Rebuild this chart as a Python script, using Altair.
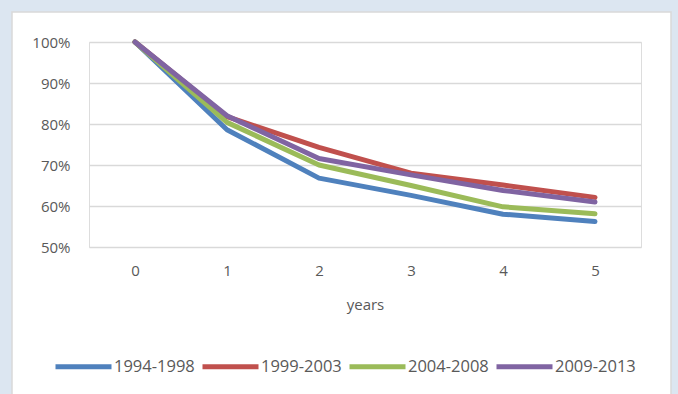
import altair as alt
import pandas as pd

years = [0, 1, 2, 3, 4, 5]
series_names = ["1994-1998", "1999-2003", "2004-2008", "2009-2013"]
s_1994 = [1.00, 0.786, 0.668, 0.626, 0.580, 0.562]
s_1999 = [1.00, 0.818, 0.743, 0.680, 0.651, 0.621]
s_2004 = [1.00, 0.804, 0.700, 0.650, 0.598, 0.581]
s_2009 = [1.00, 0.820, 0.716, 0.676, 0.638, 0.610]
colors = ["#4F81BD", "#C0504D", "#9BBB59", "#8064A2"]

rows = []
for name, vals in zip(series_names, [s_1994, s_1999, s_2004, s_2009]):
    for yr, v in zip(years, vals):
        rows.append({"year": yr, "value": v, "period": name})
df = pd.DataFrame(rows)

FONT = "Open Sans"
TXT = "#595959"

lines = alt.Chart(df).mark_line(strokeWidth=5, strokeCap="round", strokeJoin="round").encode(
    x=alt.X("year:O", title="years",
            scale=alt.Scale(type="point", padding=0.5),
            axis=alt.Axis(labelAngle=0, domain=False, ticks=False, grid=False,
                          labelPadding=16, titlePadding=19,
                          labelFontSize=15, titleFontSize=15, titleFontWeight="normal")),
    y=alt.Y("value:Q", title=None,
            scale=alt.Scale(domain=[0.5, 1.0], nice=False, zero=False),
            axis=alt.Axis(format=".0%", values=[0.5, 0.6, 0.7, 0.8, 0.9, 1.0],
                          domain=False, ticks=False, labelPadding=19,
                          labelFontSize=15, gridColor="#D9D9D9", gridWidth=1.5)),
    color=alt.Color("period:N", sort=series_names,
                    scale=alt.Scale(domain=series_names, range=colors),
                    legend=alt.Legend(title=None, orient="none", direction="horizontal",
                                      legendX=-36, legendY=294,
                                      symbolType="stroke", symbolSize=3136,
                                      symbolStrokeWidth=5, labelFontSize=16.5,
                                      labelOffset=0, columnPadding=-3)),
)

frame = alt.Chart(alt.Data(values=[{}])).mark_rect(
    fill=None, stroke="#DCE6F1", strokeWidth=24
).encode(x=alt.value(-89), x2=alt.value(594), y=alt.value(-42), y2=alt.value(364))

border = alt.Chart(alt.Data(values=[{}])).mark_rect(
    fill=None, stroke="#D9D9D9", strokeWidth=1.5
).encode(x=alt.value(-77), x2=alt.value(582), y=alt.value(-30), y2=alt.value(370))

chart = alt.layer(frame, border, lines).properties(
    width=552, height=205,
    autosize=alt.AutoSizeParams(type="none"),
    padding={"left": 89, "top": 42, "right": 37, "bottom": 147},
    background="white",
).configure_view(stroke=None).configure(
    font=FONT
).configure_axis(labelColor=TXT, titleColor=TXT, labelFont=FONT, titleFont=FONT
).configure_legend(labelColor=TXT, labelFont=FONT)

chart.save("out.html", embed_options={"renderer": "svg", "actions": False})
